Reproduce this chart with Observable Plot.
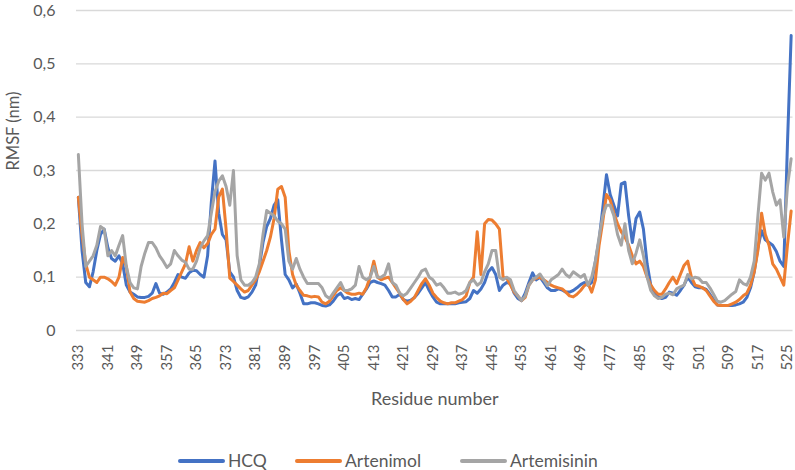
<!DOCTYPE html>
<html><head><meta charset="utf-8">
<script src="https://cdn.jsdelivr.net/npm/d3@7"></script>
<script src="https://cdn.jsdelivr.net/npm/@observablehq/plot@0.6"></script>
<style>
body{margin:0;background:#fff;font-family:Lato,"Open Sans",sans-serif;}
#chart{width:795px;height:470px;position:relative;overflow:hidden;}
.item{position:absolute;top:448px;display:flex;align-items:center;font-size:17.5px;color:#595959;line-height:26px;}
.swatch{display:inline-block;width:47px;height:3.5px;border-radius:2px;margin-right:3px;}
</style></head>
<body><div id="chart"></div>
<script>
const residues = [
 333,334,335,336,337,338,339,340,341,342,
 343,344,345,346,347,348,349,350,351,352,
 353,354,355,356,357,358,359,360,361,362,
 363,364,365,366,367,368,369,370,371,372,
 373,374,375,376,377,378,379,380,381,382,
 383,384,385,386,387,388,389,390,391,392,
 393,394,395,396,397,398,399,400,401,402,
 403,404,405,406,407,408,409,410,411,412,
 413,414,415,416,417,418,419,420,421,422,
 423,424,425,426,427,428,429,430,431,432,
 433,434,435,436,437,438,439,440,441,442,
 443,444,445,446,447,448,449,450,451,452,
 453,454,455,456,457,458,459,460,461,462,
 463,464,465,466,467,468,469,470,471,472,
 473,474,475,476,477,478,479,480,481,482,
 483,484,485,486,487,488,489,490,491,492,
 493,494,495,496,497,498,499,500,501,502,
 503,504,505,506,507,508,509,510,511,512,
 513,514,515,516,517,518,519,520,521,522,
 523,524,525,526];

const hcq = [
 0.25,0.15,0.09,0.082,0.11,0.15,0.18,0.19,0.155,0.135,
 0.13,0.14,0.125,0.085,0.072,0.068,0.063,0.062,0.062,0.064,
 0.07,0.088,0.07,0.068,0.072,0.078,0.09,0.105,0.1,0.098,
 0.108,0.113,0.112,0.105,0.1,0.14,0.24,0.318,0.22,0.18,
 0.17,0.11,0.1,0.075,0.062,0.06,0.063,0.072,0.085,0.12,
 0.165,0.195,0.21,0.235,0.245,0.17,0.105,0.095,0.08,0.087,
 0.07,0.05,0.05,0.052,0.052,0.05,0.047,0.046,0.048,0.055,
 0.065,0.07,0.06,0.062,0.058,0.06,0.058,0.068,0.078,0.09,
 0.093,0.09,0.088,0.085,0.075,0.063,0.063,0.068,0.058,0.055,
 0.057,0.062,0.07,0.08,0.09,0.075,0.063,0.053,0.05,0.05,
 0.05,0.05,0.05,0.052,0.053,0.054,0.06,0.075,0.07,0.078,
 0.09,0.11,0.118,0.105,0.075,0.085,0.09,0.088,0.07,0.06,
 0.056,0.07,0.09,0.108,0.095,0.1,0.09,0.08,0.075,0.075,
 0.078,0.076,0.072,0.072,0.075,0.08,0.086,0.09,0.085,0.09,
 0.13,0.17,0.23,0.292,0.255,0.235,0.215,0.275,0.278,0.215,
 0.165,0.21,0.222,0.19,0.125,0.085,0.07,0.063,0.06,0.062,
 0.072,0.07,0.066,0.075,0.085,0.1,0.09,0.082,0.08,0.08,
 0.077,0.068,0.058,0.048,0.047,0.047,0.047,0.047,0.048,0.05,
 0.053,0.062,0.08,0.11,0.155,0.187,0.17,0.165,0.16,0.148,
 0.13,0.12,0.35,0.553];

const artenimol = [
 0.25,0.18,0.125,0.1,0.095,0.09,0.1,0.1,0.097,0.092,
 0.085,0.1,0.137,0.12,0.072,0.06,0.055,0.054,0.053,0.056,
 0.06,0.062,0.065,0.07,0.069,0.075,0.08,0.095,0.11,0.125,
 0.157,0.13,0.15,0.165,0.155,0.163,0.18,0.19,0.25,0.265,
 0.19,0.098,0.092,0.085,0.078,0.072,0.075,0.085,0.095,0.11,
 0.13,0.15,0.175,0.21,0.265,0.27,0.25,0.15,0.105,0.085,
 0.075,0.066,0.065,0.063,0.064,0.063,0.053,0.05,0.055,0.065,
 0.075,0.08,0.075,0.07,0.068,0.068,0.07,0.068,0.08,0.1,
 0.13,0.1,0.095,0.098,0.1,0.09,0.08,0.07,0.058,0.05,
 0.055,0.062,0.075,0.088,0.097,0.085,0.07,0.062,0.055,0.052,
 0.05,0.052,0.052,0.055,0.058,0.065,0.09,0.1,0.185,0.105,
 0.2,0.208,0.207,0.2,0.19,0.1,0.098,0.085,0.072,0.065,
 0.056,0.062,0.085,0.095,0.098,0.1,0.095,0.09,0.085,0.082,
 0.08,0.078,0.072,0.065,0.063,0.068,0.075,0.084,0.088,0.072,
 0.095,0.16,0.205,0.255,0.245,0.22,0.2,0.185,0.175,0.16,
 0.14,0.125,0.13,0.12,0.1,0.085,0.075,0.068,0.068,0.078,
 0.09,0.1,0.088,0.105,0.122,0.13,0.1,0.085,0.083,0.08,
 0.075,0.065,0.055,0.048,0.047,0.047,0.047,0.05,0.053,0.058,
 0.065,0.07,0.085,0.11,0.15,0.22,0.18,0.16,0.125,0.115,
 0.1,0.085,0.16,0.224];

const artemisinin = [
 0.33,0.2,0.12,0.13,0.14,0.16,0.195,0.19,0.14,0.15,
 0.14,0.16,0.178,0.12,0.09,0.08,0.078,0.12,0.145,0.165,
 0.165,0.155,0.14,0.13,0.118,0.125,0.15,0.14,0.132,0.128,
 0.115,0.115,0.13,0.155,0.168,0.178,0.22,0.26,0.28,0.29,
 0.27,0.235,0.3,0.14,0.095,0.085,0.085,0.09,0.1,0.125,
 0.18,0.225,0.22,0.215,0.205,0.2,0.19,0.13,0.115,0.135,
 0.115,0.1,0.088,0.088,0.088,0.088,0.08,0.065,0.06,0.07,
 0.08,0.09,0.075,0.075,0.078,0.085,0.12,0.1,0.095,0.1,
 0.12,0.1,0.1,0.105,0.125,0.09,0.085,0.07,0.065,0.07,
 0.08,0.09,0.1,0.112,0.115,0.1,0.095,0.085,0.088,0.08,
 0.07,0.07,0.072,0.068,0.07,0.075,0.09,0.095,0.085,0.09,
 0.11,0.125,0.15,0.15,0.1,0.095,0.1,0.095,0.075,0.065,
 0.056,0.065,0.085,0.095,0.1,0.106,0.095,0.084,0.095,0.1,
 0.105,0.115,0.105,0.1,0.11,0.105,0.1,0.105,0.085,0.1,
 0.13,0.175,0.215,0.235,0.235,0.215,0.18,0.16,0.2,0.15,
 0.125,0.145,0.17,0.14,0.1,0.075,0.065,0.06,0.062,0.068,
 0.07,0.067,0.078,0.082,0.085,0.105,0.097,0.1,0.098,0.09,
 0.09,0.08,0.068,0.055,0.053,0.056,0.062,0.068,0.073,0.095,
 0.088,0.085,0.1,0.13,0.215,0.295,0.282,0.295,0.26,0.235,
 0.245,0.175,0.27,0.322];

const seriesNames = ["HCQ", "Artenimol", "Artemisinin"];
const seriesColors = ["#4472C4", "#ED7D31", "#A5A5A5"];
const xTicks = [333,341,349,357,365,373,381,389,397,405,413,421,429,437,445,453,461,469,477,485,493,501,509,517,525];
const yTicks = [0,0.1,0.2,0.3,0.4,0.5,0.6];
const xTitle = "Residue number";
const yTitle = "RMSF (nm)";

const seriesValues = [hcq, artenimol, artemisinin];
const tables = seriesValues.map(vals => residues.map((r, i) => ({residue: r, value: vals[i]})));

const fmt = d => d === 0 ? "0" : d.toFixed(1).replace(".", ",");

const plot = Plot.plot({
  width: 795, height: 420,
  marginLeft: 76, marginRight: 2.5, marginTop: 10, marginBottom: 90,
  x: {domain: [332.5, 526.5]},
  y: {domain: [0, 0.6]},
  style: {fontFamily: "Lato, 'Open Sans', sans-serif", fontSize: "14px", color: "#595959", background: "white", overflow: "visible"},
  marks: [
    Plot.gridY(yTicks, {stroke: "#d9d9d9", strokeOpacity: 1, strokeWidth: 1.3}),
    Plot.axisY(yTicks, {tickSize: 0, tickPadding: 21, tickFormat: fmt, fontSize: 16, label: null}),
    Plot.axisX(xTicks, {tickSize: 0, tickRotate: -90, tickPadding: 14, tickFormat: d => String(d), fontSize: 15, label: null}),
    Plot.text([xTitle], {frameAnchor: "bottom", dy: 74, fontSize: 18, fill: "#595959"}),
    Plot.text([yTitle], {frameAnchor: "left", dx: -63, rotate: -90, fontSize: 16.5, fill: "#595959"}),
    ...tables.map((t, i) => Plot.lineY(t, {x: "residue", y: "value", stroke: seriesColors[i],
      strokeWidth: 3, strokeLinejoin: "round", strokeLinecap: "round"}))
  ]
});
const chart = document.getElementById("chart");
chart.appendChild(plot);

const legendX = [178, 295, 460];
seriesNames.forEach((name, i) => {
  const item = document.createElement("div");
  item.className = "item";
  item.style.left = legendX[i] + "px";
  const sw = document.createElement("span");
  sw.className = "swatch";
  sw.style.background = seriesColors[i];
  item.appendChild(sw);
  item.appendChild(document.createTextNode(name));
  chart.appendChild(item);
});
</script></body></html>
